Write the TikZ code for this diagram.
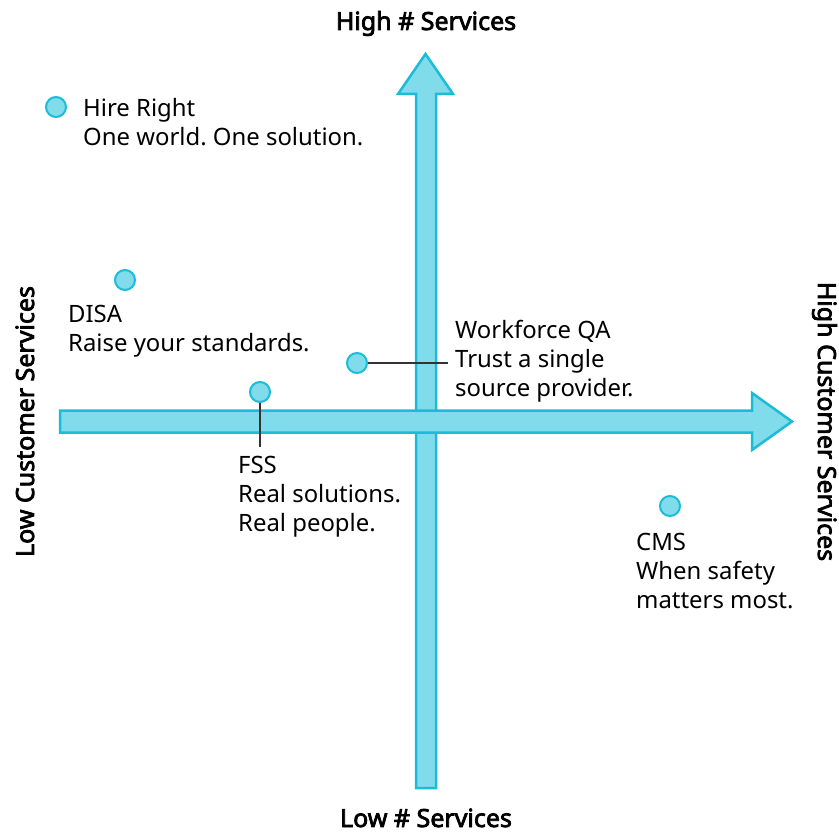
\documentclass[tikz,border=0pt]{standalone}
\usepackage{fontspec}
\setmainfont{Noto Sans}
\newfontfamily\ttlfont{Noto Sans}[FakeBold=3]
\frenchspacing
\definecolor{afill}{HTML}{80DCEB}
\definecolor{adraw}{HTML}{1ABCD8}
\begin{document}
\begin{tikzpicture}[x=1pt,y=-1pt,
 arrowbody/.style={fill=afill,draw=adraw,line width=2.5pt,line join=miter},
 dot/.style={circle,fill=afill,draw=adraw,line width=2pt,minimum size=20pt,inner sep=0pt},
 lbl/.style={font=\fontsize{23.9}{29}\selectfont,align=left,anchor=base west,inner sep=0pt},
 ttl/.style={font=\ttlfont\fontsize{25}{28}\selectfont,inner sep=0pt,anchor=base},
 lead/.style={draw=black!80,line width=1.3pt}]
\useasboundingbox (0,0) rectangle (839,832);
% vertical axis arrow
\draw[arrowbody] (416,788) -- (416,94) -- (398,94) -- (425.5,54) -- (453,94) -- (436,94) -- (436,788) -- cycle;
% horizontal axis arrow
\draw[arrowbody] (60,410.5) -- (752,410.5) -- (752,393) -- (792,421.5) -- (752,450) -- (752,432.5) -- (60,432.5) -- cycle;
% dots
\node[dot] (hr) at (56,107) {};
\node[dot] (disa) at (125,280) {};
\node[dot] (wqa) at (357,363) {};
\node[dot] (fss) at (260,392) {};
\node[dot] (cms) at (670,506) {};
% leaders
\coordinate (wqaend) at (448,363);
\coordinate (fssend) at (260,447);
\draw[lead] (wqa) -- (wqaend);
\draw[lead] (fss) -- (fssend);
% labels (base anchor = baseline of last line)
\node[lbl] (hrl) at (83,145.7) {Hire Right\\One world. One solution.};
\node[lbl] (disal) at (68,351) {DISA\\Raise your standards.};
\node[lbl] (wqal) at (455,396) {Workforce QA\\Trust a single\\source provider.};
\node[lbl] (fssl) at (238,531) {FSS\\Real solutions.\\Real people.};
\node[lbl] (cmsl) at (636,608) {CMS\\When safety\\matters most.};
% axis titles
\node[ttl] (top) at (426,30) {High \# Services};
\node[ttl] (bot) at (426,827) {Low \# Services};
\node[ttl,rotate=90] (lft) at (34,421.5) {Low Customer Services};
\node[ttl,rotate=-90] (rgt) at (818,421.5) {High Customer Services};
\end{tikzpicture}
\end{document}
